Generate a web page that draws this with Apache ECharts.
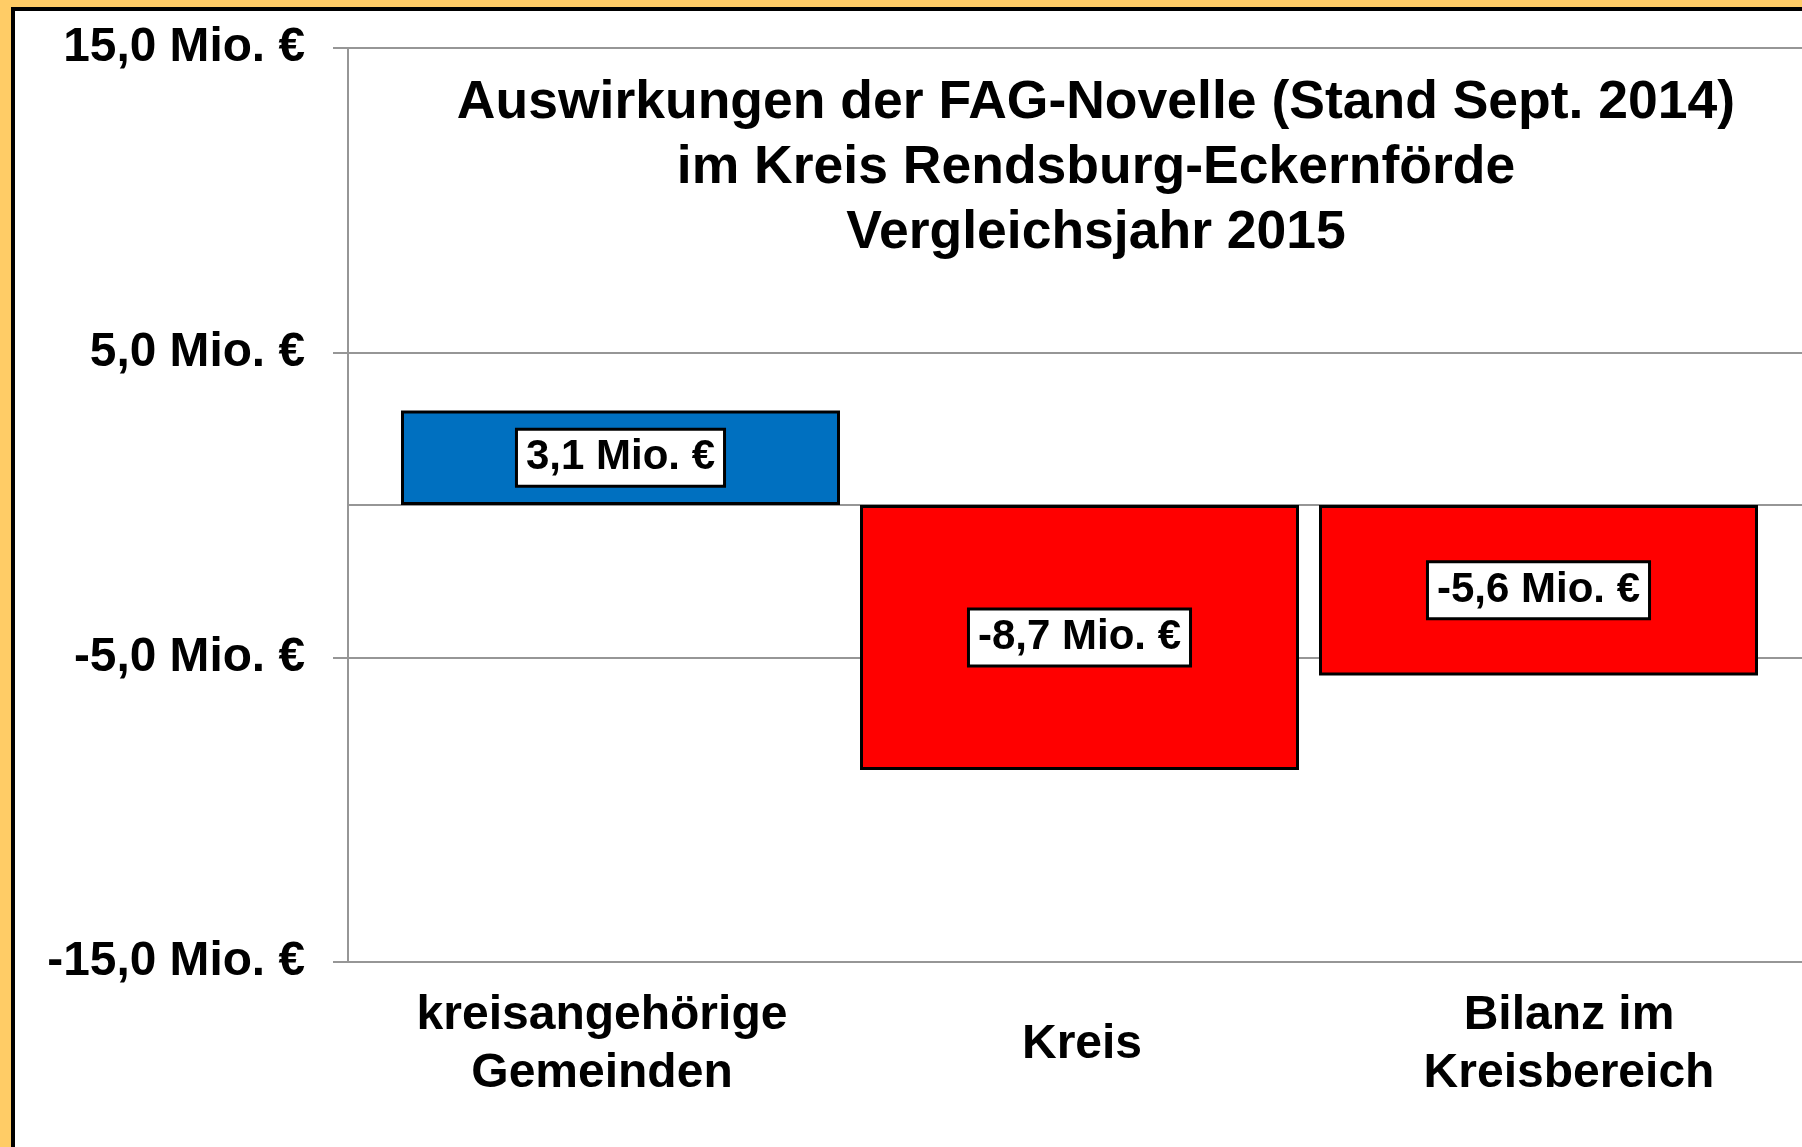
<!DOCTYPE html>
<html>
<head>
<meta charset="utf-8">
<script src="https://cdn.jsdelivr.net/npm/echarts@6/dist/echarts.min.js"></script>
<style>
html,body{margin:0;padding:0;width:1802px;height:1147px;overflow:hidden;background:#FFCC66;}
.frame{position:absolute;left:11px;top:7px;right:0;bottom:0;background:#fff;border-left:4px solid #000;border-top:4px solid #000;}
#chart{position:absolute;left:0;top:0;width:1802px;height:1147px;}
</style>
</head>
<body>
<div class="frame"></div>
<div id="chart"></div>
<script>
// Auswirkungen der FAG-Novelle, Werte in Mio. €
var categories = ['kreisangehörige\nGemeinden', 'Kreis', 'Bilanz im\nKreisbereich'];
var values = [3.1, -8.7, -5.6];
var barColors = ['#0070C0', '#FF0000', '#FF0000'];
var yTicks = [-15, -5, 5, 15];

var font = '"Liberation Sans", Arial, sans-serif';
var yMin = yTicks[0], yMax = yTicks[yTicks.length - 1], yStep = yTicks[1] - yTicks[0];

function fmt(v) {
    return v.toFixed(1).replace('.', ',') + ' Mio. €';
}

// kleine Korrekturen der Beschriftung wie im Original
var labelData = categories.map(function (c, i) {
    var pad = [0, 0, 0, 0];
    if (i === 1) pad = [24, 0, 0, 0];
    if (i === 2) pad = [0, 0, 0, 14];
    return {value: c, textStyle: {padding: pad, verticalAlign: 'middle'}};
});

var chart = echarts.init(document.getElementById('chart'), null, {renderer: 'canvas'});
chart.setOption({
    animation: false,
    backgroundColor: 'transparent',
    title: {
        text: 'Auswirkungen der FAG-Novelle (Stand Sept. 2014)\nim Kreis Rendsburg-Eckernförde\nVergleichsjahr 2015',
        left: 1091,
        top: 66,
        textAlign: 'center',
        textStyle: {
            fontFamily: font, fontSize: 53.5, fontWeight: 'bold', color: '#000', lineHeight: 65
        }
    },
    grid: [
        {left: 348, right: 0, top: 48, bottom: 185},   // Achsen + Gitter
        {left: 391, right: 34, top: 48, bottom: 185},  // Balken
        {left: 362, right: 0, top: 48, bottom: 185}    // Kategorienbeschriftung
    ],
    xAxis: [
        {
            gridIndex: 0, type: 'category', data: categories,
            axisLine: {onZero: true, lineStyle: {color: '#969696', width: 2}},
            axisTick: {show: false}, axisLabel: {show: false}
        },
        {
            gridIndex: 1, type: 'category', data: categories, show: false
        },
        {
            gridIndex: 2, type: 'category', data: labelData,
            axisLine: {show: false, onZero: false}, axisTick: {show: false},
            axisLabel: {
                margin: 83, verticalAlign: 'middle', interval: 0,
                fontFamily: font, fontSize: 48, fontWeight: 'bold', color: '#000', lineHeight: 58
            }
        }
    ],
    yAxis: [
        {
            gridIndex: 0, type: 'value', min: yMin, max: yMax, interval: yStep,
            axisLine: {show: true, lineStyle: {color: '#969696', width: 2}},
            axisTick: {show: true, length: 15, lineStyle: {color: '#969696', width: 2}},
            splitLine: {lineStyle: {color: '#969696', width: 2}},
            axisLabel: {
                margin: 43, formatter: fmt,
                fontFamily: font, fontSize: 47.8, fontWeight: 'bold', color: '#000'
            }
        },
        {gridIndex: 1, type: 'value', min: yMin, max: yMax, interval: yStep, show: false, splitLine: {show: false}},
        {gridIndex: 2, type: 'value', min: yMin, max: yMax, interval: yStep, show: false, splitLine: {show: false}}
    ],
    series: [
        {
            type: 'bar',
            xAxisIndex: 1, yAxisIndex: 1,
            barWidth: 439,
            data: values.map(function (v, i) {
                return {value: v, itemStyle: {color: barColors[i]}};
            }),
            itemStyle: {borderColor: '#000', borderWidth: 3},
            label: {
                show: true, position: 'inside',
                formatter: function (p) { return fmt(p.value); },
                fontFamily: font, fontSize: 42, fontWeight: 'bold', color: '#000',
                backgroundColor: '#fff', borderColor: '#000', borderWidth: 3,
                padding: [5, 8, 3, 8], lineHeight: 46
            }
        }
    ]
});
</script>
</body>
</html>
